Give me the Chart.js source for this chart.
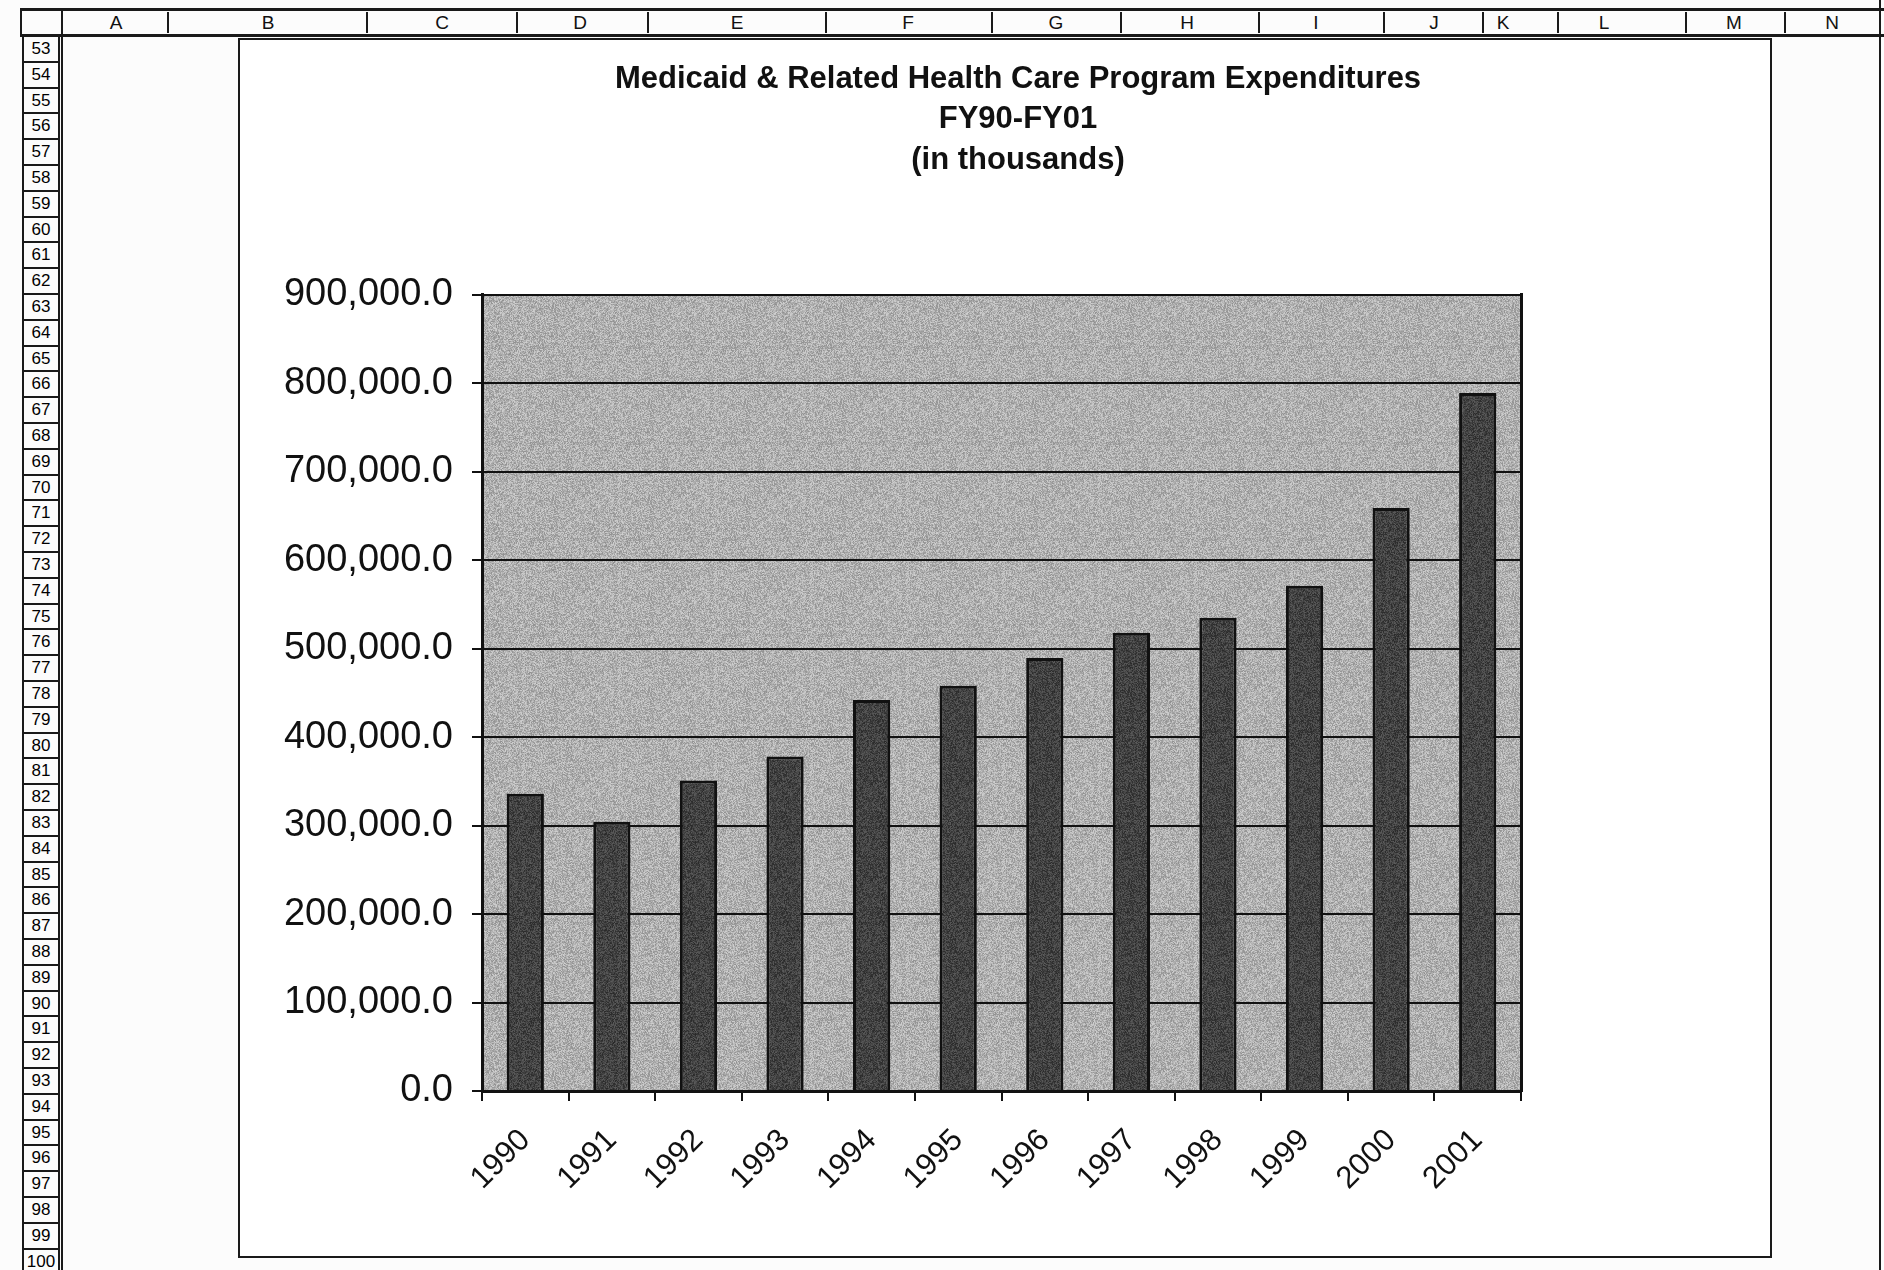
<!DOCTYPE html>
<html>
<head>
<meta charset="utf-8">
<title>Medicaid & Related Health Care Program Expenditures</title>
<script src="https://cdn.jsdelivr.net/npm/chart.js@4.4.1/dist/chart.umd.min.js"></script>
<style>
  body {
    margin: 0;
    width: 1884px;
    height: 1270px;
    overflow: hidden;
    background: #fcfcfc;
    font-family: 'Liberation Sans', Arial, sans-serif;
    color: #111;
    position: relative;
  }
  .hline, .vline { position: absolute; background: #1a1a1a; }
  .col-letter {
    position: absolute;
    top: 11px;
    font-size: 19px;
    line-height: 24px;
    transform: translateX(-50%);
  }
  .row-num {
    position: absolute;
    left: 22px;
    width: 38px;
    border: 2px solid #1a1a1a;
    border-top-width: 1px;
    border-bottom-width: 1px;
    font-size: 17px;
    text-align: center;
    box-sizing: border-box;
    color: #000;
  }
  #chart-box {
    position: absolute;
    left: 238px;
    top: 38px;
    width: 1534px;
    height: 1220px;
    border: 2px solid #1a1a1a;
    box-sizing: border-box;
    background: #fff;
  }
  #chart-wrap {
    position: absolute;
    left: 240px;
    top: 40px;
    width: 1556px;
    height: 1216px;
  }
</style>
</head>
<body>
<div id="sheet"></div>
<div id="chart-box"></div>
<div id="chart-wrap"><canvas id="expenditure-chart"></canvas></div>

<script>
// data (thousands of dollars)
const years = ['1990', '1991', '1992', '1993', '1994', '1995', '1996', '1997', '1998', '1999', '2000', '2001'];
const expenditures = [336000, 304500, 351000, 378000, 442000, 458000, 489500, 518000, 535000, 571000, 659000, 789000];
const titleLines = ['Medicaid & Related Health Care Program Expenditures', 'FY90-FY01', '(in thousands)'];
const yMin = 0;
const yMax = 900000;
const yStep = 100000;

// spreadsheet frame around the chart
const colLetters = ['A', 'B', 'C', 'D', 'E', 'F', 'G', 'H', 'I', 'J', 'K', 'L', 'M', 'N'];
const colCenters = [116, 268, 442, 580, 737, 908, 1056, 1187, 1316, 1434, 1503, 1604, 1734, 1832];
const colSeparators = [167, 366, 516, 647, 825, 991, 1120, 1258, 1383, 1482, 1557, 1685, 1784];
const firstRow = 53;
const lastRow = 100;

function buildSheet() {
  const sheet = document.getElementById('sheet');
  const add = (cls, css, text) => {
    const el = document.createElement('div');
    el.className = cls;
    Object.assign(el.style, css);
    if (text) el.textContent = text;
    sheet.appendChild(el);
  };

  // header row
  add('hline', { left: '20px', top: '8px', width: '1864px', height: '3px' });
  add('hline', { left: '20px', top: '34px', width: '1864px', height: '3px' });
  add('vline', { left: '20px', top: '8px', width: '2px', height: '29px' });
  add('vline', { left: '61px', top: '8px', width: '2px', height: '1262px' });
  colSeparators.forEach(x => add('vline', { left: x + 'px', top: '12px', width: '2px', height: '21px' }));
  colLetters.forEach((c, i) => add('col-letter', { left: colCenters[i] + 'px' }, c));

  // row numbers
  const rowH = 25.8;
  for (let r = firstRow; r <= lastRow; r++) {
    const top = 36 + (r - firstRow) * rowH;
    add('row-num', { top: top + 'px', height: rowH + 'px', lineHeight: (rowH - 2) + 'px' }, String(r));
  }

  // right page edge
  add('vline', { left: '1879px', top: '0px', width: '2px', height: '1270px' });
}

buildSheet();

// speckled fill, like the printed halftone (deterministic hash, no data involved)
function speckle(base, spread) {
  const size = 96;
  const c = document.createElement('canvas');
  c.width = size;
  c.height = size;
  const g = c.getContext('2d');
  const img = g.createImageData(size, size);
  for (let i = 0; i < size * size; i++) {
    let h = Math.imul(i + 1, 2654435761) >>> 0;
    h = (h ^ (h >>> 15)) >>> 0;
    h = Math.imul(h, 2246822519) >>> 0;
    h = (h ^ (h >>> 13)) >>> 0;
    const n = (h % 1000) / 1000 - 0.5;
    const v = Math.max(0, Math.min(255, Math.round(base + n * spread)));
    img.data[i * 4] = v;
    img.data[i * 4 + 1] = v;
    img.data[i * 4 + 2] = v;
    img.data[i * 4 + 3] = 255;
  }
  g.putImageData(img, 0, 0);
  return g.createPattern(c, 'repeat');
}

const plotFill = speckle(176, 64);
const barFill = speckle(66, 50);

const plotBackground = {
  id: 'plotBackground',
  beforeDraw(chart) {
    const { ctx, chartArea: a } = chart;
    ctx.save();
    ctx.fillStyle = plotFill;
    ctx.fillRect(a.left, a.top, a.right - a.left, a.bottom - a.top);
    ctx.restore();
  }
};

function formatTick(value) {
  return value.toLocaleString('en-US', { minimumFractionDigits: 1, maximumFractionDigits: 1 });
}

const ctx = document.getElementById('expenditure-chart');

new Chart(ctx, {
  type: 'bar',
  data: {
    labels: years,
    datasets: [{
      label: 'Expenditures',
      data: expenditures,
      backgroundColor: barFill,
      borderColor: '#111',
      borderWidth: 3,
      barPercentage: 0.43,
      categoryPercentage: 1
    }]
  },
  options: {
    responsive: true,
    maintainAspectRatio: false,
    animation: false,
    layout: { padding: 0 },
    plugins: {
      legend: { display: false },
      tooltip: { enabled: false },
      title: {
        display: true,
        text: titleLines,
        color: '#111',
        font: { family: "'Liberation Sans', Arial, sans-serif", size: 31, weight: 'bold', lineHeight: 1.31 },
        padding: { top: 19, bottom: 114 }
      }
    },
    scales: {
      x: {
        grid: {
          display: true,
          drawOnChartArea: false,
          drawTicks: true,
          tickLength: 10,
          offset: true,
          color: '#111',
          lineWidth: 2
        },
        border: { display: true, color: '#111', width: 3 },
        ticks: {
          autoSkip: false,
          maxRotation: 45,
          minRotation: 45,
          padding: 21,
          color: '#111',
          font: { family: "'Liberation Sans', Arial, sans-serif", size: 31 }
        },
        afterFit: scale => { scale.height = 165; }
      },
      y: {
        min: yMin,
        max: yMax,
        grid: {
          color: '#111',
          lineWidth: 2,
          drawTicks: true,
          tickLength: 10
        },
        border: { display: true, color: '#111', width: 3 },
        ticks: {
          stepSize: yStep,
          padding: 19,
          color: '#111',
          font: { family: "'Liberation Sans', Arial, sans-serif", size: 38 },
          callback: formatTick
        },
        afterFit: scale => { scale.width = 242; }
      },
      yRight: {
        axis: 'y',
        position: 'right',
        display: true,
        grid: { display: false },
        border: { display: true, color: '#111', width: 3 },
        ticks: { display: false },
        afterFit: scale => { scale.width = 275; }
      }
    }
  },
  plugins: [plotBackground]
});
</script>
</body>
</html>
